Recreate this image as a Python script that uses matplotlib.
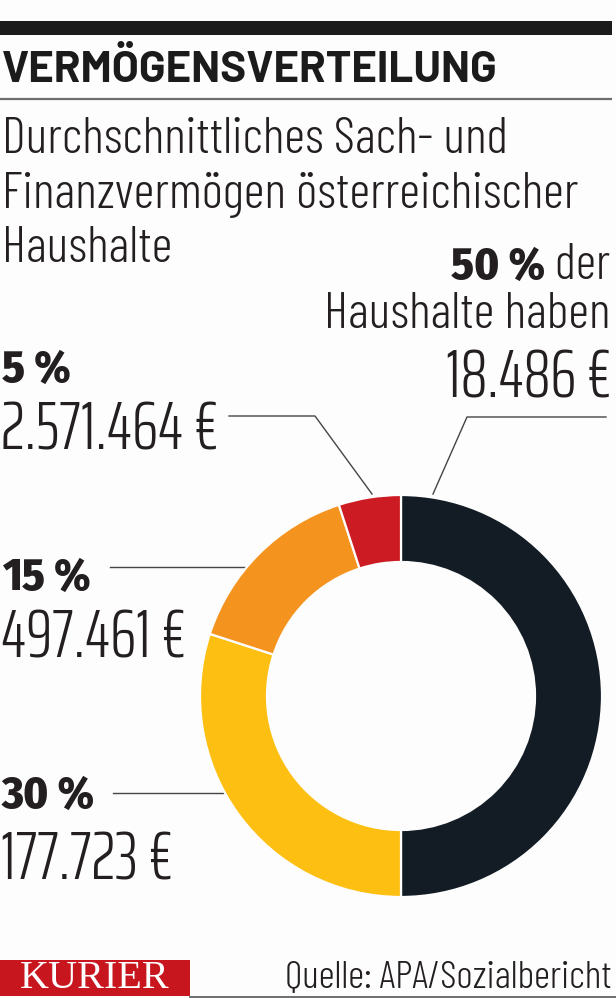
import matplotlib
matplotlib.use("Agg")
import matplotlib.pyplot as plt
from matplotlib.patches import Rectangle

# ---- data ----
shares = [50, 30, 15, 5]
share_labels = ["50 %", "30 %", "15 %", "5 %"]
amounts = ["18.486 €", "177.723 €", "497.461 €", "2.571.464 €"]
colors = ["#131c24", "#fdbf12", "#f4941f", "#cd1b24"]

title = "VERMÖGENSVERTEILUNG"
subtitle = ["Durchschnittliches Sach- und", "Finanzvermögen österreichischer", "Haushalte"]
source = "Quelle: APA/Sozialbericht"
brand = "KURIER"

W, H = 616, 998
TXT = "#231f20"
LIGHT = "Barlow Condensed"
NUM = "Saira ExtraCondensed"
BOLD = "Fira Sans Condensed"

fig = plt.figure(figsize=(W / 100, H / 100), dpi=100)
fig.patch.set_facecolor("#fdfdfd")
ax = fig.add_axes([0, 0, 1, 1])
ax.set_xlim(0, W)
ax.set_ylim(H, 0)
ax.axis("off")

# header
ax.add_patch(Rectangle((0, 21), 612, 14, color="#1b1b1b", lw=0))
ax.text(2, 82, title, fontfamily="Barlow", fontweight=700,
        fontsize=31.5, color="#1b1b1b", va="baseline")
ax.plot([0, 612], [98.5, 98.5], color="#6e6e6e", lw=1.6, solid_capstyle="butt")
for i, line in enumerate(subtitle):
    ax.text(2, 153 + 54.5 * i, line, fontfamily=LIGHT, fontweight=300,
            fontsize=37, color=TXT, va="baseline")

# donut
cx, cy, R = 401, 696, 201
pax = fig.add_axes([(cx - R) / W, (H - cy - R) / H, 2 * R / W, 2 * R / H])
pax.pie(shares, colors=colors, startangle=90, counterclock=False, radius=1,
        wedgeprops=dict(width=67 / R, edgecolor="#fdfdfd", linewidth=1.6))
pax.set_xlim(-1, 1)
pax.set_ylim(-1, 1)
pax.set_aspect("auto")
pax.axis("off")

LC = "#454545"
LW = 1.0

# 50 % label (right)
t_der = ax.text(610, 279, " der", fontfamily=LIGHT, fontweight=300,
                fontsize=36, color=TXT, va="baseline", ha="right")
fig.canvas.draw()
bb = t_der.get_window_extent()
ax.text(bb.x0, 279, share_labels[0], fontfamily=BOLD, fontweight=800,
        fontsize=33, color=TXT, va="baseline", ha="right")
ax.text(610, 328, "Haushalte haben", fontfamily=LIGHT, fontweight=300,
        fontsize=37, color=TXT, va="baseline", ha="right")
ax.text(611, 398, amounts[0], fontfamily=NUM, fontweight=300,
        fontsize=48, color=TXT, va="baseline", ha="right")
ax.plot([606, 467, 433], [417, 417, 494], color=LC, lw=LW)

# left labels
left = [
    (3, share_labels[3], 382, amounts[3], 450, [229, 315, 372], [416, 416, 494]),
    (3, share_labels[2], 590, amounts[2], 658, [110, 247], [567, 567]),
    (3, share_labels[1], 808, amounts[1], 880, [113, 225], [793, 793]),
]
for x, pl, py, al, ay, lx, ly in left:
    ax.text(x - 1, py, pl, fontfamily=BOLD, fontweight=800, fontsize=33,
            color=TXT, va="baseline")
    ax.text(x - 2, ay, al, fontfamily=NUM, fontweight=300, fontsize=48,
            color=TXT, va="baseline")
    ax.plot(lx, ly, color=LC, lw=LW)

# footer
ax.add_patch(Rectangle((0, 960), 190, 36, color="#c8161e", lw=0))
ax.text(95, 988, brand, fontfamily="Liberation Serif", fontsize=29,
        color="white", va="baseline", ha="center")
ax.plot([190, 616], [997, 997], color="#555555", lw=1.2)
ax.text(612, 988, source, fontfamily=LIGHT, fontweight=300, fontsize=28.5,
        color=TXT, va="baseline", ha="right")

fig.savefig("out.png", dpi=100, facecolor=fig.get_facecolor())
